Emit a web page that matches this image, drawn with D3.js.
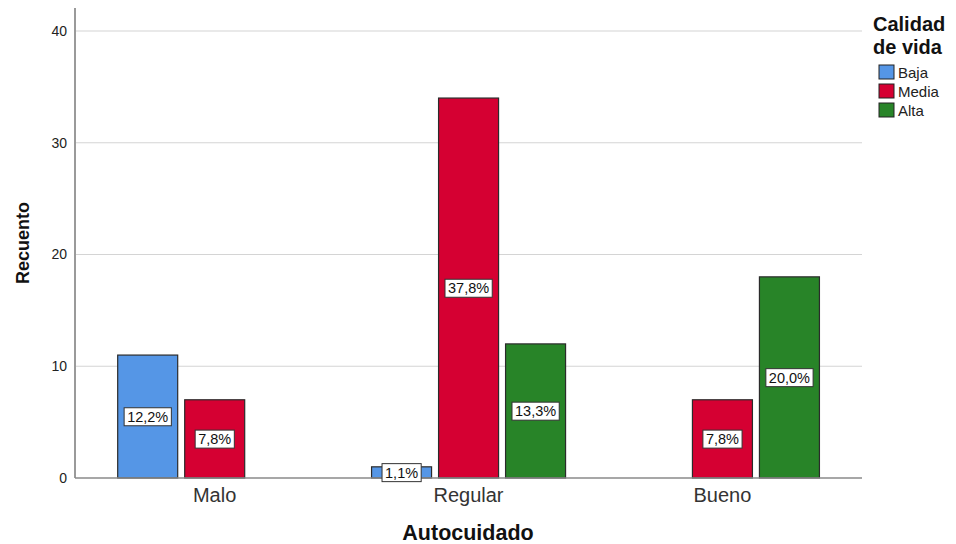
<!DOCTYPE html>
<html>
<head>
<meta charset="utf-8">
<script src="https://cdn.jsdelivr.net/npm/d3@7"></script>
<style>
  html, body { margin: 0; padding: 0; background: #fff; }
  svg { display: block; font-family: "Liberation Sans", Arial, sans-serif; }
</style>
</head>
<body>
<svg id="chart" width="956" height="544"></svg>
<script>
// Autocuidado categories and counts per Calidad de vida level
const categories = ["Malo", "Regular", "Bueno"];
const series = ["Baja", "Media", "Alta"];
const bajaValues  = [11, 1, 0];
const mediaValues = [7, 34, 7];
const altaValues  = [0, 12, 18];
const percentLabels = {
  Baja:  ["12,2%", "1,1%", null],
  Media: ["7,8%", "37,8%", "7,8%"],
  Alta:  [null, "13,3%", "20,0%"]
};
const yTicks = [0, 10, 20, 30, 40];
const colors = { Baja: "#5596e6", Media: "#d50032", Alta: "#288428" };

const valuesBySeries = { Baja: bajaValues, Media: mediaValues, Alta: altaValues };
const rows = [];
categories.forEach((c, i) => {
  series.forEach(s => {
    const v = valuesBySeries[s][i];
    if (v > 0) rows.push({ cat: c, series: s, value: v, label: percentLabels[s][i] });
  });
});

const svg = d3.select("#chart");
const plotLeft = 75, plotRight = 862, plotTop = 8, plotBottom = 478;

const x0 = d3.scaleBand().domain(categories).range([plotLeft, plotRight])
  .paddingInner(0).paddingOuter(0.05);
const x1 = d3.scaleBand().domain(series).range([30, 224]).paddingInner(7 / 67);
const y = d3.scaleLinear().domain([0, 40]).range([plotBottom, 31]);

// gridlines
svg.append("g").selectAll("line")
  .data(yTicks.filter(t => t > 0)).join("line")
  .attr("x1", plotLeft).attr("x2", plotRight)
  .attr("y1", d => y(d)).attr("y2", d => y(d))
  .attr("stroke", "#d4d4d4").attr("stroke-width", 1.2);

// y axis
const yAxis = d3.axisLeft(y).tickValues(yTicks).tickSize(0).tickPadding(8);
const gy = svg.append("g").attr("transform", `translate(${plotLeft},0)`).call(yAxis);
gy.select(".domain").remove();
gy.selectAll("text").attr("font-size", 14).attr("fill", "#222")
  .attr("font-family", "Liberation Sans, Arial, sans-serif");
svg.append("line").attr("x1", plotLeft).attr("x2", plotLeft).attr("y1", plotTop).attr("y2", plotBottom)
  .attr("stroke", "#9a9a9a").attr("stroke-width", 2);

// bars
const bars = svg.append("g").selectAll("g.bar").data(rows).join("g");
bars.append("rect")
  .attr("x", d => x0(d.cat) + x1(d.series))
  .attr("y", d => y(d.value))
  .attr("width", x1.bandwidth())
  .attr("height", d => y(0) - y(d.value))
  .attr("fill", d => colors[d.series])
  .attr("stroke", "#2b2b2b").attr("stroke-width", 1.2);

// x axis baseline
const xAxis = d3.axisBottom(x0).tickSize(0).tickPadding(10);
const gx = svg.append("g").attr("transform", `translate(0,${plotBottom})`).call(xAxis);
gx.select(".domain").remove();
gx.selectAll("text").attr("font-size", 20).attr("fill", "#333")
  .attr("font-family", "Liberation Sans, Arial, sans-serif");
svg.append("line").attr("x1", plotLeft).attr("x2", plotRight).attr("y1", plotBottom).attr("y2", plotBottom)
  .attr("stroke", "#8a8a8a").attr("stroke-width", 1.5);

// value labels in boxes
const labels = svg.append("g").selectAll("g.lbl").data(rows.filter(d => d.label)).join("g")
  .attr("transform", d => `translate(${x0(d.cat) + x1(d.series) + x1.bandwidth() / 2},${(y(0) + y(d.value)) / 2})`);
labels.append("text")
  .attr("text-anchor", "middle").attr("dy", "0.36em")
  .attr("font-size", 14.5).attr("fill", "#111")
  .text(d => d.label);
labels.each(function () {
  const g = d3.select(this);
  const bb = g.select("text").node().getBBox();
  g.insert("rect", "text")
    .attr("x", bb.x - 3).attr("y", bb.y - 1)
    .attr("width", bb.width + 6).attr("height", bb.height + 2)
    .attr("fill", "#fff").attr("stroke", "#333").attr("stroke-width", 1);
});

// axis titles
svg.append("text").attr("x", 468).attr("y", 540).attr("text-anchor", "middle")
  .attr("font-size", 21.5).attr("font-weight", "bold").attr("fill", "#111").text("Autocuidado");
svg.append("text").attr("transform", "translate(29,243) rotate(-90)").attr("text-anchor", "middle")
  .attr("font-size", 18).attr("font-weight", "bold").attr("fill", "#111").text("Recuento");

// legend
const legend = svg.append("g");
legend.append("text").attr("x", 873).attr("y", 31)
  .attr("font-size", 20).attr("font-weight", "bold").attr("fill", "#111").text("Calidad");
legend.append("text").attr("x", 873).attr("y", 54)
  .attr("font-size", 20).attr("font-weight", "bold").attr("fill", "#111").text("de vida");
const li = legend.selectAll("g.item").data(series).join("g")
  .attr("transform", (d, i) => `translate(879,${65 + i * 19})`);
li.append("rect").attr("width", 15).attr("height", 14)
  .attr("fill", d => colors[d]).attr("stroke", "#222").attr("stroke-width", 1);
li.append("text").attr("x", 19).attr("y", 12.5)
  .attr("font-size", 15).attr("fill", "#222").text(d => d);
</script>
</body>
</html>
